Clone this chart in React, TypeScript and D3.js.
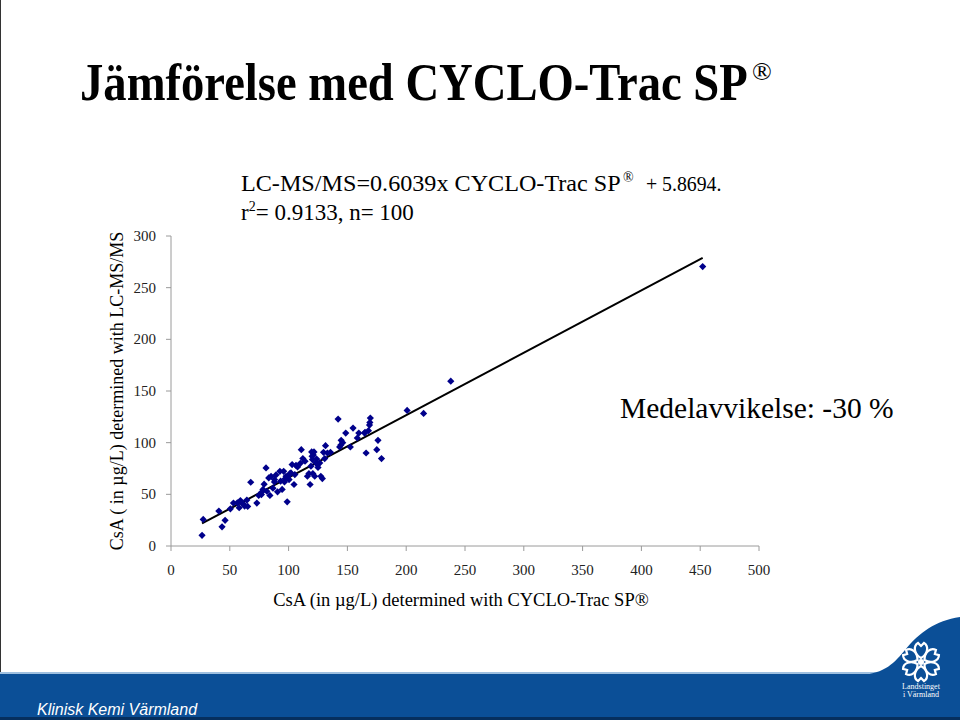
import React from "react";
import * as d3 from "d3";

const cycloTrac: number[] = [
  26.4, 27.4, 40.7, 43.4, 46, 50.5, 53.1, 56.4, 58, 59, 61.3, 62.6, 64.5, 65.2, 67.8, 73, 74.6, 76.9, 78.2, 79.2,
  80.8, 81.5, 83.1, 84.1, 85.1, 86.7, 88, 89.3, 90.6, 92.6, 93.2, 94.5, 95.8, 96.5, 97.8, 98.8, 99.4, 100.4, 102, 103,
  104.6, 105.3, 106.3, 107.6, 110.8, 112.1, 116, 117.3, 118.3, 119, 119.6, 120, 120.3, 120.6, 121.6, 122.2, 123.2, 123.9, 124.8, 126.5,
  127.4, 128.7, 129.7, 130.7, 131.4, 135.6, 142.1, 143.4, 144.4, 144.7, 148.6, 152.5, 154.8, 158.4, 159.7, 164.6, 165.9, 167.9, 168.8, 169.1,
  169.5, 175, 176, 179, 200.8, 214.8, 237.9, 452.1, 101, 97, 110, 88, 60, 121, 125, 133, 146, 165, 77, 114,
];
const lcmsms: number[] = [
  10.3, 25.7, 33.8, 18.6, 24.8, 36, 41.5, 41.8, 37, 44, 40.8, 38.6, 44.4, 38.3, 61.7, 41.5, 48.9, 49.8, 54.7, 59.8,
  75.6, 53, 65.9, 48.9, 67.5, 56, 64.3, 68.8, 52.4, 72.3, 62.7, 54.7, 72.3, 62, 67.5, 42.8, 66.9, 64.3, 70.7, 78.8,
  59.5, 69.1, 78.1, 76.5, 93.2, 84.6, 67.5, 70.1, 59.5, 77.2, 91, 86.8, 83.6, 70.1, 91, 67.5, 80.4, 84.2, 78.8, 80.4,
  67.5, 65.3, 90.7, 84.6, 97.1, 90.7, 122.8, 95.8, 97.7, 102.3, 109.3, 95.8, 114.1, 104.5, 109.3, 109.3, 90, 111.6, 117, 119.6,
  123.8, 93.2, 102.3, 84.6, 131.2, 128.3, 159.5, 270.4, 70, 65, 80, 62, 42, 88, 76, 90, 100, 110, 52, 82,
];
const slope = 0.6039;
const intercept = 5.8694;
const xTicks: number[] = [0, 50, 100, 150, 200, 250, 300, 350, 400, 450, 500];
const yTicks: number[] = [0, 50, 100, 150, 200, 250, 300];

const SERIF = "'Liberation Serif', 'DejaVu Serif', serif";

export default function App() {
  const x = d3.scaleLinear().domain([0, 500]).range([171, 759]);
  const y = d3.scaleLinear().domain([0, 300]).range([546, 236]);
  const xMin = d3.min(cycloTrac) as number;
  const xMax = d3.max(cycloTrac) as number;
  const lineGen = d3
    .line<number>()
    .x((d) => x(d))
    .y((d) => y(slope * d + intercept));
  const diamond = d3.symbol().type(d3.symbolSquare).size(26)() as string;
  const axisColor = "#9a9a9a";

  return (
    <svg
      width={960}
      height={720}
      style={{ position: "fixed", left: 0, top: 0, background: "#fff" }}
    >
      <rect x={0} y={0} width={960} height={720} fill="#fff" />
      <line x1={0.5} y1={0} x2={0.5} y2={676} stroke="#333" strokeWidth={1} />

      {/* Title */}
      <text
        transform="translate(80,100) scale(0.88,1)"
        x={0}
        y={0}
        fontFamily={SERIF}
        fontWeight="bold"
        fontSize={53}
        fill="#000"
      >
        Jämförelse med CYCLO-Trac SP
      </text>
      <text x={752} y={80} fontFamily={SERIF} fontSize={26} fill="#000">
        ®
      </text>

      {/* Equation */}
      <text
        transform="translate(241,191) scale(1.05,1)"
        x={0}
        y={0}
        fontFamily={SERIF}
        fontSize={23}
        fill="#000"
      >
        LC-MS/MS=0.6039x CYCLO-Trac SP
      </text>
      <text x={623} y={182} fontFamily={SERIF} fontSize={14} fill="#000">
        ®
      </text>
      <text
        transform="translate(646,191) scale(0.9,1)"
        x={0}
        y={0}
        fontFamily={SERIF}
        fontSize={22}
        fill="#000"
      >
        + 5.8694.
      </text>
      <text x={241} y={220} fontFamily={SERIF} fontSize={23} fill="#000">
        <tspan>r</tspan>
        <tspan dy={-9} fontSize={14}>2</tspan>
        <tspan dy={9}>= 0.9133, n= 100</tspan>
      </text>

      {/* Axes */}
      <line x1={x(0)} y1={y(0)} x2={x(500)} y2={y(0)} stroke={axisColor} strokeWidth={1} />
      <line x1={x(0)} y1={y(0)} x2={x(0)} y2={y(300)} stroke={axisColor} strokeWidth={1} />
      {xTicks.map((t) => (
        <g key={"xt" + t}>
          <line x1={x(t)} y1={y(0)} x2={x(t)} y2={y(0) + 5} stroke={axisColor} />
          <text
            x={x(t)}
            y={575}
            textAnchor="middle"
            fontFamily={SERIF}
            fontSize={15}
            fill="#222"
          >
            {t}
          </text>
        </g>
      ))}
      {yTicks.map((t) => (
        <g key={"yt" + t}>
          <line x1={x(0) - 5} y1={y(t)} x2={x(0)} y2={y(t)} stroke={axisColor} />
          <text
            x={156}
            y={y(t) + 5}
            textAnchor="end"
            fontFamily={SERIF}
            fontSize={15}
            fill="#222"
          >
            {t}
          </text>
        </g>
      ))}

      {/* Axis titles */}
      <text
        x={461}
        y={606}
        textAnchor="middle"
        fontFamily={SERIF}
        fontSize={18.5}
        fill="#000"
      >
        CsA (in µg/L) determined with CYCLO-Trac SP®
      </text>
      <text
        transform="translate(123,391) rotate(-90)"
        textAnchor="middle"
        fontFamily={SERIF}
        fontSize={18}
        fill="#000"
      >
        CsA ( in µg/L) determined with LC-MS/MS
      </text>

      {/* Regression line */}
      <path d={lineGen([xMin, xMax]) as string} fill="none" stroke="#000" strokeWidth={2} />

      {/* Points */}
      {cycloTrac.map((cx, i) => (
        <path
          key={"p" + i}
          d={diamond}
          transform={`translate(${x(cx)},${y(lcmsms[i])}) rotate(45)`}
          fill="#00008b"
        />
      ))}

      {/* Annotation */}
      <text x={620} y={418} fontFamily={SERIF} fontSize={29.5} fill="#000">
        Medelavvikelse: -30 %
      </text>

      {/* Footer */}
      <rect x={0} y={672} width={960} height={2} fill="#9fc0e0" />
      <path
        d="M 860 675 C 885 674 895 662 905 650 C 920 632 935 621 960 617 L 960 720 L 860 720 Z"
        fill="#0b4f97"
      />
      <rect x={0} y={674} width={960} height={46} fill="#0b4f97" />
      <rect x={0} y={717} width={960} height={3} fill="#062f5e" />
      <text
        x={37}
        y={715}
        fontFamily="'Liberation Sans', Arial, sans-serif"
        fontStyle="italic"
        fontSize={16}
        fill="#fff"
      >
        Klinisk Kemi Värmland
      </text>

      {/* Logo */}
      <g transform="translate(921,662)" fill="none" stroke="#fff" strokeWidth={2.2}>
        {[0, 60, 120, 180, 240, 300].map((a) => (
          <path
            key={"petal" + a}
            transform={`rotate(${a})`}
            d="M 0 -4 C -7 -8 -8 -16 -3 -19 L 0 -16 L 3 -19 C 8 -16 7 -8 0 -4 Z"
          />
        ))}
        <circle r={3} fill="#fff" stroke="none" />
      </g>
      <text x={921} y={689} textAnchor="middle" fontFamily={SERIF} fontSize={8} fill="#fff">
        Landstinget
      </text>
      <text x={921} y={697} textAnchor="middle" fontFamily={SERIF} fontSize={8} fill="#fff">
        i Värmland
      </text>
    </svg>
  );
}
